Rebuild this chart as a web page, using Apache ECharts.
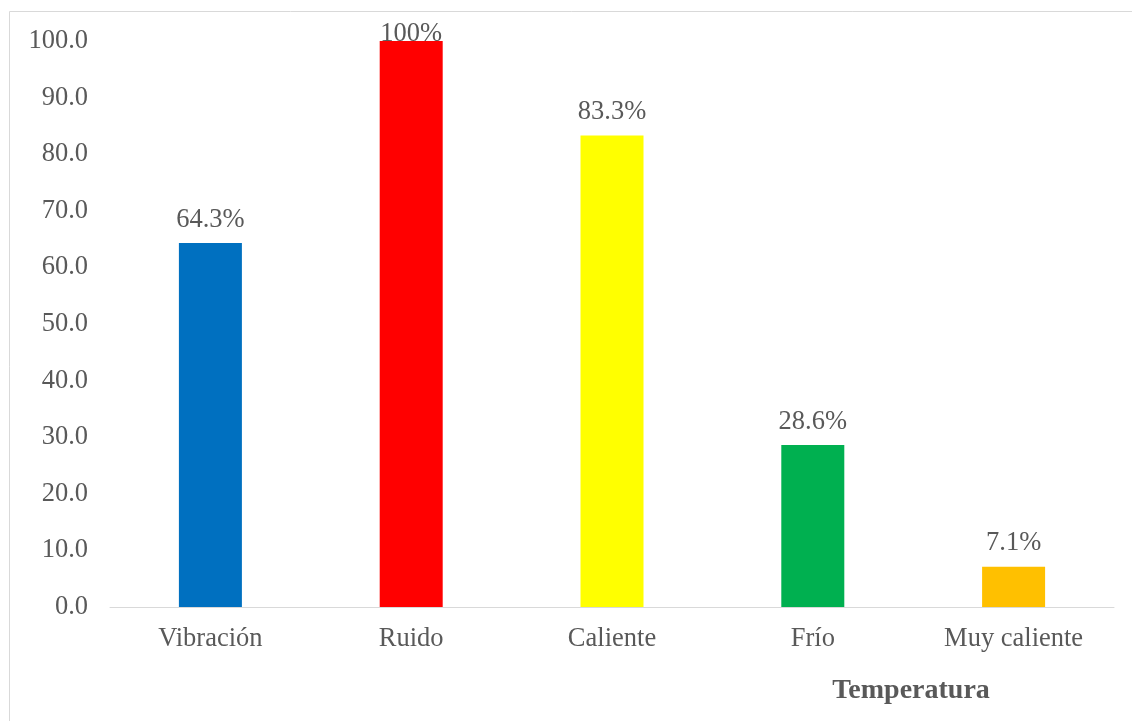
<!DOCTYPE html>
<html>
<head>
<meta charset="utf-8">
<script src="https://cdn.jsdelivr.net/npm/echarts@6/dist/echarts.min.js"></script>
<style>
  html, body { margin: 0; padding: 0; background: #fff; }
  #chart { width: 1132px; height: 721px; }
</style>
</head>
<body>
<div id="chart"></div>
<script>
// categories and values (percent)
const categories = ['Vibración', 'Ruido', 'Caliente', 'Frío', 'Muy caliente']
const values = [64.3, 100, 83.3, 28.6, 7.1]
const barColors = ['#0070C0', '#FF0000', '#FFFF00', '#00B050', '#FFC000']
const axisTitle = 'Temperatura'

const textColor = '#595959'
const fontFamily = '"Liberation Serif", "Times New Roman", serif'

const chart = echarts.init(document.getElementById('chart'))

const option = {
  animation: false,
  textStyle: { fontFamily: fontFamily },
  graphic: [{
    type: 'rect',
    shape: { x: 9.5, y: 11.5, width: 1200, height: 800 },
    style: { fill: 'none', stroke: '#d9d9d9', lineWidth: 1 },
    silent: true
  }],
  title: {
    text: axisTitle,
    left: 906,
    top: 672,
    textAlign: 'center',
    textStyle: { fontFamily: fontFamily, fontSize: 28, fontWeight: 'bold', color: textColor }
  },
  grid: { left: 110, right: 18, top: 41, bottom: 114 },
  xAxis: {
    type: 'category',
    data: categories,
    axisLine: { lineStyle: { color: '#d9d9d9', width: 1 } },
    axisTick: { show: false },
    axisLabel: { color: textColor, fontSize: 26.5, margin: 19, fontFamily: fontFamily }
  },
  yAxis: {
    type: 'value',
    min: 0,
    max: 100,
    interval: 10,
    axisLine: { show: false },
    axisTick: { show: false },
    splitLine: { show: false },
    axisLabel: {
      color: textColor, fontSize: 26.5, margin: 22, fontFamily: fontFamily,
      padding: [5, 0, 0, 0],
      formatter: v => v.toFixed(1)
    }
  },
  series: [{
    type: 'bar',
    barWidth: 63,
    data: values.map((v, i) => ({
      value: v,
      itemStyle: { color: barColors[i] },
      label: v >= 100 ? { offset: [0, 17] } : {}
    })),
    label: {
      show: true,
      position: 'top',
      distance: 10,
      color: textColor,
      fontSize: 26.5,
      fontFamily: fontFamily,
      formatter: p => (p.value >= 100 ? p.value.toFixed(0) : p.value.toFixed(1)) + '%'
    }
  }]
}

chart.setOption(option)
</script>
</body>
</html>
